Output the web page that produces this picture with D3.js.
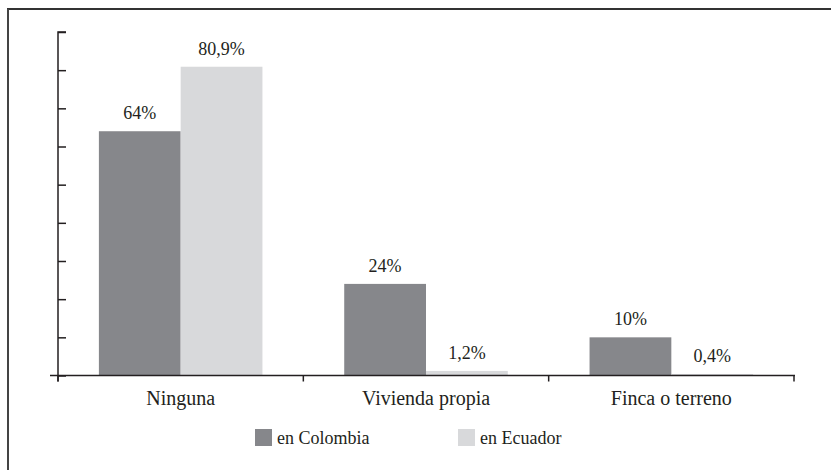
<!DOCTYPE html>
<html>
<head>
<meta charset="utf-8">
<script src="https://cdn.jsdelivr.net/npm/d3@7/dist/d3.min.js"></script>
<style>
  html, body { margin: 0; padding: 0; background: #fff; }
  svg { display: block; }
</style>
</head>
<body>
<script>
const categories = ["Ninguna", "Vivienda propia", "Finca o terreno"];
const seriesNames = ["en Colombia", "en Ecuador"];
const colombia = [64, 24, 10];
const ecuador = [80.9, 1.2, 0.4];
const valueLabelsColombia = ["64%", "24%", "10%"];
const valueLabelsEcuador = ["80,9%", "1,2%", "0,4%"];
const yTicks = [0, 10, 20, 30, 40, 50, 60, 70, 80, 90];

const W = 831, H = 470;
const colors = ["#86878b", "#d8d9db"];
const FONT = "'Liberation Serif', 'Times New Roman', Times, Tinos, 'DejaVu Serif', 'Noto Serif', serif";

const svg = d3.select("body").append("svg").attr("width", W).attr("height", H)
  .style("font-family", FONT);

// frame (top and left edges visible)
svg.append("line").attr("x1", 7).attr("x2", W).attr("y1", 9).attr("y2", 9)
  .attr("stroke", "#333").attr("stroke-width", 2);
svg.append("line").attr("x1", 8).attr("x2", 8).attr("y1", 9).attr("y2", H)
  .attr("stroke", "#444").attr("stroke-width", 2);

const x0 = d3.scaleBand().domain(categories).range([58, 794]).paddingInner(0).paddingOuter(0);
const x1 = d3.scaleBand().domain(seriesNames).range([0, x0.bandwidth()]).paddingInner(0).paddingOuter(0.5);
const y = d3.scaleLinear().domain([0, 90]).range([375.5, 32]);

const data = categories.map((c, i) => ({
  cat: c,
  vals: [
    { s: seriesNames[0], v: colombia[i], label: valueLabelsColombia[i] },
    { s: seriesNames[1], v: ecuador[i], label: valueLabelsEcuador[i] }
  ]
}));

// bars
const g = svg.append("g");
const groups = g.selectAll("g.grp").data(data).join("g")
  .attr("transform", d => `translate(${x0(d.cat)},0)`);
groups.selectAll("rect").data(d => d.vals).join("rect")
  .attr("x", d => x1(d.s))
  .attr("width", x1.bandwidth())
  .attr("y", d => y(d.v))
  .attr("height", d => y(0) - y(d.v))
  .attr("fill", (d, i) => colors[i]);
groups.selectAll("text").data(d => d.vals).join("text")
  .attr("x", d => x1(d.s) + x1.bandwidth() / 2)
  .attr("y", d => y(d.v) - 12)
  .attr("text-anchor", "middle")
  .attr("font-size", 18)
  .attr("font-family", FONT)
  .attr("fill", "#231f20")
  .text(d => d.label);

// y axis
const yAxis = d3.axisRight(y).tickValues(yTicks).tickSize(8).tickFormat("");
const yg = svg.append("g").attr("transform", "translate(58,0)").call(yAxis);
yg.select(".domain").attr("stroke", "#231f20").attr("stroke-width", 1.5)
  .attr("d", `M8,${y(90)}H0V${y(0) + 6}`);
yg.selectAll(".tick line").attr("stroke", "#231f20").attr("stroke-width", 1.5);

// x axis
const bounds = [...categories.map(c => x0(c)), x0.range()[1]];
const xg = svg.append("g");
xg.append("line").attr("x1", 50).attr("x2", 795).attr("y1", y(0)).attr("y2", y(0))
  .attr("stroke", "#231f20").attr("stroke-width", 1.5);
xg.selectAll("line.tk").data(bounds).join("line").attr("class", "tk")
  .attr("x1", d => d).attr("x2", d => d)
  .attr("y1", y(0)).attr("y2", y(0) + 6)
  .attr("stroke", "#231f20").attr("stroke-width", 1.5);
xg.selectAll("text").data(categories).join("text")
  .attr("x", d => x0(d) + x0.bandwidth() / 2)
  .attr("y", 405)
  .attr("text-anchor", "middle")
  .attr("font-size", 20)
  .attr("font-family", FONT)
  .attr("fill", "#231f20")
  .text(d => d);

// legend
const legX = [255, 458];
const leg = svg.append("g");
seriesNames.forEach((s, i) => {
  leg.append("rect").attr("x", legX[i]).attr("y", 429).attr("width", 17).attr("height", 17)
    .attr("fill", colors[i]);
  leg.append("text").attr("x", legX[i] + 22).attr("y", 444)
    .attr("font-size", 18).attr("font-family", FONT).attr("fill", "#231f20").text(s);
});
</script>
</body>
</html>
